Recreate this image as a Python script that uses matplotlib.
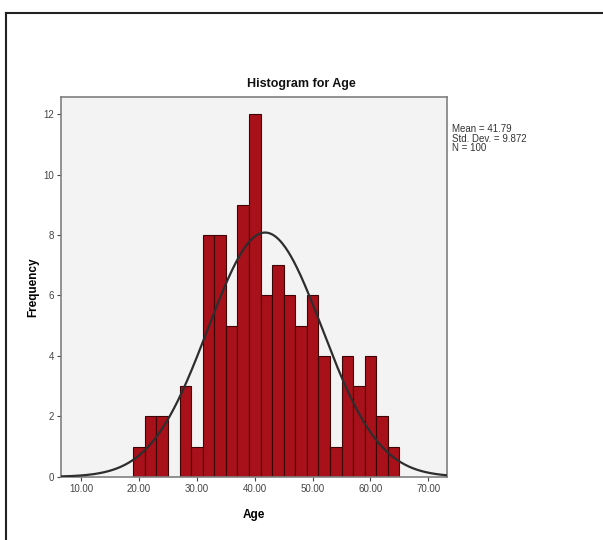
import numpy as np
import matplotlib
matplotlib.use('Agg')
import matplotlib.pyplot as plt
from matplotlib.lines import Line2D

plt.rcParams['font.family'] = ['Liberation Sans', 'DejaVu Sans']

# histogram of age, bins of width 2 starting at 19
bin_edges = list(range(19, 67, 2))
counts = [1, 2, 2, 0, 3, 1, 8, 8, 5, 9, 12, 6, 7, 6, 5, 6, 4, 1, 4, 3, 4, 2, 1]
mean_age = 41.79
std_age = 9.872
n_obs = 100
bin_width = 2
x_ticks = [10, 20, 30, 40, 50, 60, 70]
y_ticks = [0, 2, 4, 6, 8, 10, 12]

fig = plt.figure(figsize=(6.03, 5.4), dpi=100)
ax = fig.add_axes([0.101, 0.117, 0.640, 0.703])
ax.set_facecolor('#f3f3f3')

ax.bar(bin_edges[:-1], counts, width=bin_width, align='edge',
       color='#a8101a', edgecolor='#3e0507', linewidth=0.8, zorder=2)

# normal curve scaled to counts
xs = np.linspace(6.5, 73.2, 400)
pdf = np.exp(-0.5 * ((xs - mean_age) / std_age) ** 2) / (std_age * np.sqrt(2 * np.pi))
ax.plot(xs, pdf * n_obs * bin_width, color='#2e2e2e', linewidth=1.6, zorder=3)

ax.set_xlim(6.5, 73.2)
ax.set_ylim(0, 12.56)
ax.set_xticks(x_ticks)
ax.set_xticklabels(['%.2f' % t for t in x_ticks])
ax.set_yticks(y_ticks)
ax.tick_params(axis='both', labelsize=7, colors='#444444', length=3, width=0.8,
               direction='out', pad=2)
for s in ax.spines.values():
    s.set_color('#808080')
    s.set_linewidth(1.2)

ax.set_xlabel('Age', fontsize=8.5, fontweight='bold', labelpad=11)
ax.set_ylabel('Frequency', fontsize=8.5, fontweight='bold', labelpad=3)
fig.text(0.5, 0.845, 'Histogram for Age', ha='center', va='center',
         fontsize=9, fontweight='bold', color='#111111')

fig.text(0.750, 0.770, 'Mean = %.2f\nStd. Dev. = %.3f\nN = %d' % (mean_age, std_age, n_obs),
         ha='left', va='top', fontsize=7, linespacing=0.95, color='#333333')

# frame lines around the output (top and left only)
fig.add_artist(Line2D([0.01, 1.0], [0.976, 0.976], color='#222222', linewidth=1.5))
fig.add_artist(Line2D([0.01, 0.01], [0.0, 0.976], color='#222222', linewidth=1.5))

fig.savefig('out.png', dpi=100)
